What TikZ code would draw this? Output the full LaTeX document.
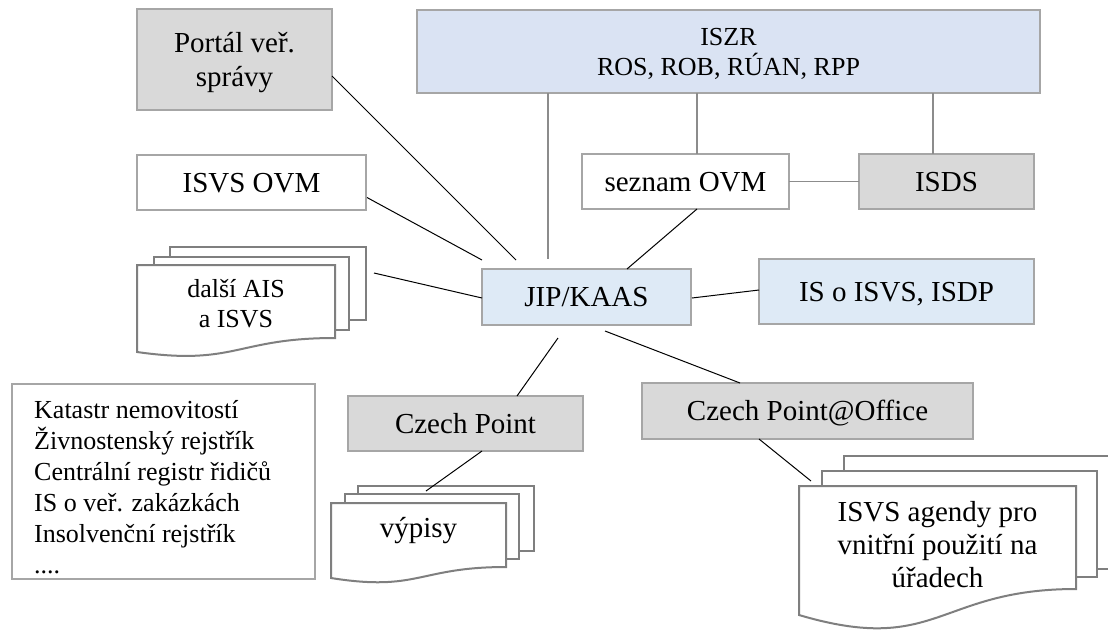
\documentclass[tikz,border=0pt]{standalone}
\usepackage{fontspec}
\setmainfont{Liberation Serif}
\usetikzlibrary{calc}
\definecolor{boxgray}{HTML}{D9D9D9}
\definecolor{edgegray}{HTML}{A6A6A6}
\definecolor{docedge}{HTML}{7F7F7F}
\definecolor{iszrblue}{HTML}{DAE3F3}
\definecolor{jipblue}{HTML}{DEEAF6}
\definecolor{linkgray}{HTML}{8C8C8C}
\tikzset{
  box/.style={draw=edgegray, line width=2pt, rectangle, inner sep=0pt, outer sep=0pt,
    font=\fontsize{29}{34}\selectfont, align=center},
  graybox/.style={box, fill=boxgray},
  whitebox/.style={box, fill=white},
  bluebox/.style={box, fill=jipblue},
  oneline/.style={text height=19.2pt, text depth=0pt},
  sheet/.style={draw=docedge, line width=2pt, fill=white, line join=miter},
  link/.style={draw=black, line width=1pt},
  glink/.style={draw=linkgray, line width=1.3pt},
  lbl/.style={inner sep=0pt, outer sep=0pt, align=center, font=\fontsize{29}{34}\selectfont},
}
\newcommand\docback[4]{\filldraw[sheet] (#1,#2) rectangle (#3,#4);}
\newcommand\docfront[6]{\filldraw[sheet] (#1,#3) -- (#2,#3) -- (#2,#4)
  .. controls ({(#1+#2)/2},#4) and ({(#1+#2)/2},#6) .. (#1,#5) -- cycle;}
\begin{document}
\begin{tikzpicture}[x=1pt,y=-1pt]
\useasboundingbox (0,0) rectangle (1108,630);
\clip (0,0) rectangle (1108,630);

% boxes
\node[graybox, minimum width=195pt, minimum height=101pt] (portal) at (234.5,59.5)
  {\rule{0pt}{27pt}Portál veř.\\správy};
\node[box, fill=iszrblue, font=\fontsize{26}{30}\selectfont, minimum width=623pt, minimum height=83pt]
  (iszr) at (728.5,51.5) {\rule{0pt}{22.6pt}ISZR\\ROS, ROB, RÚAN, RPP};
\node[whitebox, oneline, minimum width=207pt, minimum height=55pt] (seznam) at (685.5,181.5) {seznam OVM};
\node[graybox, oneline, minimum width=175pt, minimum height=55pt] (isds) at (946.5,181.5) {ISDS};
\node[whitebox, oneline, minimum width=229pt, minimum height=55pt] (isvsovm) at (251.5,182.5) {ISVS OVM};
\node[bluebox, oneline, minimum width=209pt, minimum height=56pt] (jip) at (586.5,297) {JIP/KAAS};
\node[bluebox, oneline, minimum width=275pt, minimum height=65pt] (isoisvs) at (896.5,291.5) {IS o ISVS, ISDP};
\node[graybox, oneline, minimum width=235pt, minimum height=55pt] (czp) at (465.5,423.5) {Czech Point};
\node[graybox, oneline, minimum width=331pt, minimum height=56pt] (cpo) at (807.5,411) {Czech Point@Office};
\node[whitebox, minimum width=303pt, minimum height=195pt] (katastr) at (163.5,481.5) {};
\node[anchor=north west, align=left, inner sep=0pt, font=\fontsize{26}{31}\selectfont] (katastrtext) at (34,400)
  {Katastr nemovitostí\\Živnostenský rejstřík\\Centrální registr řidičů\\IS o veř. zakázkách\\Insolvenční rejstřík\\....};

% multi-documents
\docback{170}{247}{366}{320}
\docback{154}{257}{349}{330}
\docfront{137}{335}{265}{338}{352}{366}
\node[lbl, font=\fontsize{26}{30}\selectfont] (dalsi) at (236,304) {další AIS\\a ISVS};

\docback{358}{486}{534}{551}
\docback{345}{494}{519}{559}
\docfront{331}{506}{503}{567}{578}{592}
\node[lbl, anchor=base] (vypisy) at (418.5,537) {výpisy};

\docback{844}{456}{1130}{569}
\docback{822}{471}{1097}{577}
\docfront{799}{1076}{486}{589}{615}{656}
\node[lbl, font=\fontsize{29}{33}\selectfont] (agendy) at (937.5,545) {ISVS agendy pro\\vnitřní použití na\\úřadech};

% free ends near the document stacks
\coordinate (dalsiend) at (374,273);
\coordinate (vypend) at (426,491);
\coordinate (agend) at (811,481);

% connectors
\draw[glink] ($(iszr.south west)+(131,0)$) -- ($(jip.north west)+(66,-10)$);
\draw[glink] ($(iszr.south west)+(280,0)$) -- ($(seznam.north west)+(115,0)$);
\draw[glink] ($(iszr.south west)+(516,0)$) -- ($(isds.north west)+(74,0)$);
\draw[glink] (seznam.east) -- (isds.west);
\draw[link] ($(portal.east)+(0,16.5)$) -- ($(jip.north west)+(34,-9)$);
\draw[link] ($(isvsovm.east)+(1,15)$) -- ($(jip.north west)+(0,-9)$);
\draw[link] (dalsiend) -- ($(jip.west)+(0,1)$);
\draw[link] ($(seznam.south)+(11.5,0)$) -- ($(jip.north)+(40.5,0)$);
\draw[link] ($(jip.east)+(1,1)$) -- ($(isoisvs.west)+(0,-1.5)$);
\draw[link] ($(jip.south)+(-28.5,13)$) -- ($(czp.north)+(51.5,0)$);
\draw[link] ($(jip.south)+(18.5,6)$) -- ($(cpo.north west)+(98,0)$);
\draw[link] ($(czp.south)+(16.5,0)$) -- (vypend);
\draw[link] ($(cpo.south west)+(117,0)$) -- (agend);
\end{tikzpicture}
\end{document}
